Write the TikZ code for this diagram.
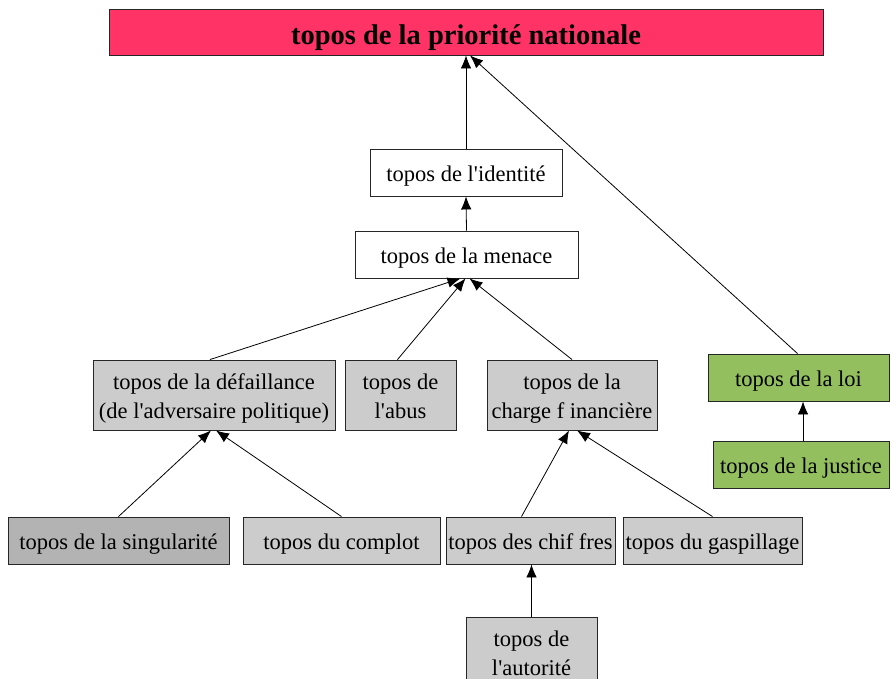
\documentclass[tikz,border=0pt]{standalone}
\usepackage{fontspec}
\setmainfont{Liberation Serif}[Ligatures=TeXOff]
\usetikzlibrary{arrows.meta,calc}
\definecolor{titlered}{HTML}{FF3366}
\definecolor{loigreen}{HTML}{93BF5E}
\definecolor{boxgray}{HTML}{CCCCCC}
\definecolor{darkgray}{HTML}{B3B3B3}
\newcommand{\lbl}[2][-3pt]{\raisebox{#1}[\height][\depth]{\begin{tabular}{@{}c@{}}#2\end{tabular}}}
\tikzset{
  box/.style={draw=black!85, line width=0.9pt, rectangle, inner sep=0pt,
    font=\fontsize{22.5}{29}\selectfont},
  gbox/.style={box, fill=boxgray},
  edge/.style={draw=black, line width=0.8pt, -{Latex[length=13pt,width=10.5pt]}}
}
\begin{document}
\begin{tikzpicture}[x=1pt,y=-1pt]
\useasboundingbox (0,0) rectangle (893,679);
\node[box, fill=titlered, minimum width=714, minimum height=46, font=\fontsize{28.5}{34}\selectfont\bfseries] (title) at (466,32) {\lbl[-6pt]{topos de la priorité nationale}};
\node[box, fill=white, minimum width=192, minimum height=47] (ident) at (466,172.5) {\lbl{topos de l'identité}};
\node[box, fill=white, minimum width=223, minimum height=47] (menace) at (466.5,254.5) {\lbl{topos de la menace}};
\node[gbox, minimum width=242, minimum height=70] (def) at (214,395) {\lbl{topos de la défaillance\\(de l'adversaire politique)}};
\node[gbox, minimum width=111, minimum height=70] (abus) at (400.5,395) {\lbl{topos de\\l'abus}};
\node[gbox, minimum width=170, minimum height=70] (charge) at (572,395) {\lbl{topos de la\\charge f inancière}};
\node[box, fill=loigreen, minimum width=181, minimum height=47] (loi) at (798.5,377.5) {\lbl{topos de la loi}};
\node[box, fill=loigreen, minimum width=176, minimum height=47] (justice) at (801,464.5) {\lbl{topos de la justice}};
\node[box, fill=darkgray, minimum width=221, minimum height=47] (sing) at (118.5,540.5) {\lbl{topos de la singularité}};
\node[gbox, minimum width=197, minimum height=47] (complot) at (341.5,540.5) {\lbl{topos du complot}};
\node[gbox, minimum width=169, minimum height=47] (chiffres) at (530.5,540.5) {\lbl{topos des chif fres}};
\node[gbox, minimum width=179, minimum height=47] (gasp) at (712.5,540.5) {\lbl{topos du gaspillage}};
\node[gbox, minimum width=131, minimum height=70] (autorite) at (531.5,652) {\lbl{topos de\\l'autorité}};

\draw[edge] (ident.north) -- (title.south);
\draw[edge] ($(loi.north)+(-1,0)$) -- ($(title.south)+(4,0)$);
\draw[edge] (menace.north) -- (ident.south);
\draw[edge] ($(def.north)+(-4,0)$) -- ($(menace.south)+(-6,0)$);
\draw[edge] ($(abus.north)+(-3,0)$) -- ($(menace.south)+(-1,0)$);
\draw[edge] (charge.north) -- ($(menace.south)+(3,0)$);
\draw[edge] ($(justice.north)+(2,0)$) -- ($(loi.south)+(4.5,0)$);
\draw[edge] (sing.north) -- ($(def.south)+(-3,0)$);
\draw[edge] (complot.north) -- ($(def.south)+(2,0)$);
\draw[edge] ($(chiffres.north)+(-9,0)$) -- ($(charge.south)+(-3,0)$);
\draw[edge] (gasp.north) -- ($(charge.south)+(5,0)$);
\draw[edge] (autorite.north) -- (autorite.north |- chiffres.south);
\end{tikzpicture}
\end{document}
